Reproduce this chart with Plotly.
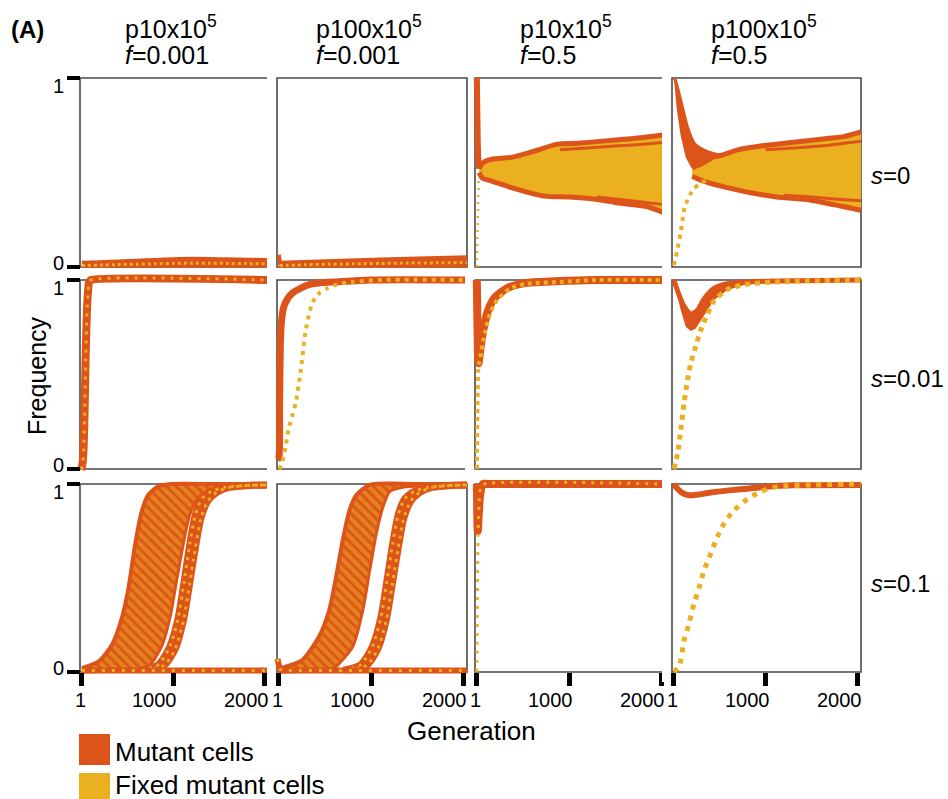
import plotly.graph_objects as go

ORANGE = "#DD541A"
YELLOW = "#EAB020"
FRAME = "#4a4a4a"
FONT = "Arial, Liberation Sans, sans-serif"

# ---------------- labels / ticks ----------------
GEN_TICKS = [1, 1000, 2000]
GEN_TICK_TEXT = ["1", "1000", "2000"]
FREQ_TICKS = [0, 1]
FREQ_TICK_TEXT = ["0", "1"]
POP_LABELS = ["p10x10<sup>5</sup>", "p100x10<sup>5</sup>", "p10x10<sup>5</sup>", "p100x10<sup>5</sup>"]
F_LABELS = ["0.001", "0.001", "0.5", "0.5"]
S_LABELS = ["0", "0.01", "0.1"]
LEGEND_LABELS = ["Mutant cells", "Fixed mutant cells"]
GEN_RANGE = [-20, 2038]

# ---------------- data ----------------
# row 1: s=0
r1c1_gen = [0, 200, 400, 600, 800, 1000, 1200, 1400, 1600, 1800, 2038]
r1c1_mut_hi = [0.025, 0.028, 0.032, 0.036, 0.04, 0.044, 0.046, 0.045, 0.043, 0.041, 0.04]
r1c1_mut_lo = [-0.004, -0.004, -0.004, -0.004, -0.004, -0.004, -0.004, -0.004, -0.004, -0.004, -0.004]
r1c1_fix = [0.008, 0.01, 0.013, 0.015, 0.017, 0.019, 0.02, 0.02, 0.019, 0.018, 0.017]

r1c2_gen = [0, 2, 12, 100, 300, 500, 800, 1100, 1400, 1700, 2038]
r1c2_mut_hi = [0.065, 0.03, 0.022, 0.024, 0.028, 0.032, 0.036, 0.04, 0.044, 0.048, 0.052]
r1c2_mut_lo = [-0.004, -0.004, -0.004, -0.004, -0.004, -0.004, -0.004, -0.004, -0.004, -0.004, -0.004]
r1c2_fix_gen = [10, 100, 300, 500, 800, 1100, 1400, 1700, 2038]
r1c2_fix = [0.008, 0.009, 0.012, 0.014, 0.017, 0.019, 0.021, 0.022, 0.024]

r1c3_mut_gen = [0, 4, 8, 12, 18, 25]
r1c3_mut = [1.0, 0.85, 0.72, 0.62, 0.55, 0.52]
r1c3_fix_gen = [0, 4, 8, 12, 18, 25]
r1c3_fix = [0.0, 0.12, 0.25, 0.36, 0.45, 0.5]
r1c3_hi_gen = [25, 60, 160, 374, 600, 874, 1100, 1444, 1693, 2038]
r1c3_hi = [0.52, 0.55, 0.57, 0.58, 0.61, 0.65, 0.655, 0.67, 0.68, 0.70]
r1c3_lo_gen = [25, 60, 160, 374, 730, 1000, 1265, 1515, 1836, 2038]
r1c3_lo = [0.5, 0.47, 0.455, 0.42, 0.375, 0.37, 0.36, 0.34, 0.32, 0.285]
r1c3_in_hi_gen = [900, 1200, 1500, 1800, 2038]
r1c3_in_hi = [0.62, 0.63, 0.64, 0.65, 0.66]
r1c3_in_lo_gen = [1300, 1600, 1850, 2038]
r1c3_in_lo = [0.37, 0.355, 0.34, 0.33]

r1c4_wedge_hi_gen = [0, 16, 76, 149, 221, 366, 511]
r1c4_wedge_hi = [1.0, 0.99, 0.88, 0.74, 0.655, 0.61, 0.59]
r1c4_wedge_lo_gen = [0, 15, 33, 76, 130, 185, 239, 300, 400, 511]
r1c4_wedge_lo = [1.0, 0.92, 0.83, 0.69, 0.58, 0.53, 0.52, 0.53, 0.56, 0.59]
r1c4_fix_gen = [0, 20, 40, 58, 76, 105, 120, 149, 185, 221, 293, 400, 550]
r1c4_fix = [0.01, 0.05, 0.09, 0.143, 0.187, 0.284, 0.32, 0.354, 0.39, 0.416, 0.443, 0.47, 0.49]
r1c4_hi_gen = [200, 300, 370, 510, 695, 945, 1300, 1670, 1850, 2038]
r1c4_hi = [0.52, 0.56, 0.58, 0.59, 0.62, 0.64, 0.66, 0.68, 0.69, 0.715]
r1c4_lo_gen = [200, 290, 580, 870, 1120, 1480, 1840, 2038]
r1c4_lo = [0.48, 0.46, 0.42, 0.39, 0.37, 0.355, 0.32, 0.30]
r1c4_in_hi_gen = [1000, 1300, 1600, 1850, 2038]
r1c4_in_hi = [0.62, 0.63, 0.64, 0.655, 0.665]
r1c4_in_lo_gen = [1200, 1500, 1750, 2038]
r1c4_in_lo = [0.38, 0.37, 0.36, 0.35]

# row 2: s=0.01
r2c1_gen = [-10, 0, 10, 20, 30, 40, 50, 60, 70, 80, 100, 2038]
r2c1_mut = [0.0, 0.01, 0.04, 0.12, 0.3, 0.55, 0.75, 0.88, 0.95, 0.99, 1.0, 1.0]
r2c1_fix = [0.0, 0.005, 0.03, 0.1, 0.27, 0.52, 0.73, 0.87, 0.94, 0.985, 1.0, 1.0]

r2c2_mut_gen = [-15, 0, 8, 19, 35, 55, 100, 145, 250, 328, 450, 620, 1000, 2038]
r2c2_mut = [0.05, 0.06, 0.35, 0.70, 0.81, 0.86, 0.905, 0.93, 0.96, 0.975, 0.985, 0.99, 1.0, 1.0]
r2c2_fix_gen = [0, 10, 33, 73, 109, 150, 183, 237, 292, 364, 437, 520, 620, 798, 1100, 2038]
r2c2_fix = [0.0, 0.005, 0.03, 0.12, 0.22, 0.29, 0.35, 0.52, 0.735, 0.88, 0.93, 0.955, 0.975, 0.99, 1.0, 1.0]

r2c3_mut_gen = [0, 4, 8, 12, 18, 25, 45, 80, 130, 200, 340, 540, 900, 1300, 2038]
r2c3_mut = [1.0, 0.85, 0.72, 0.62, 0.56, 0.58, 0.66, 0.76, 0.85, 0.91, 0.96, 0.985, 0.995, 1.0, 1.0]
r2c3_fix_gen = [0, 3, 6, 10, 15, 22, 33, 51, 87, 141, 214, 359, 540, 902, 1300, 2038]
r2c3_fix = [0.0, 0.12, 0.28, 0.42, 0.52, 0.56, 0.577, 0.63, 0.72, 0.82, 0.89, 0.955, 0.98, 0.99, 1.0, 1.0]

r2c4_hi_gen = [0, 58, 112, 185, 258, 329, 438, 584, 800, 1127, 2038]
r2c4_hi = [1.0, 0.92, 0.86, 0.82, 0.84, 0.90, 0.956, 0.98, 0.99, 0.995, 1.0]
r2c4_lo_gen = [0, 22, 76, 130, 185, 239, 293, 366, 438, 584, 764, 1127, 2038]
r2c4_lo = [0.99, 0.947, 0.84, 0.753, 0.73, 0.744, 0.788, 0.84, 0.894, 0.947, 0.974, 0.99, 0.995]
r2c4_fix_gen = [0, 40, 76, 112, 149, 185, 239, 293, 366, 438, 584, 764, 1100, 2038]
r2c4_fix = [0.0, 0.08, 0.21, 0.35, 0.47, 0.56, 0.65, 0.735, 0.82, 0.89, 0.95, 0.975, 0.99, 1.0]

# row 3: s=0.1
r3c1_band_hi_gen = [0, 185, 330, 438, 511, 583, 656, 728, 837, 982, 1489, 2038]
r3c1_band_hi = [0.021, 0.057, 0.145, 0.287, 0.447, 0.677, 0.855, 0.943, 0.988, 1.0, 1.0, 1.0]
r3c1_band_lo_gen = [0, 330, 620, 746, 873, 964, 1036, 1109, 1181, 1272, 1380, 1489, 2038]
r3c1_band_lo = [0.0, 0.005, 0.015, 0.039, 0.136, 0.287, 0.482, 0.677, 0.837, 0.926, 0.965, 0.982, 0.995]
r3c1_late1_gen = [650, 837, 964, 1054, 1120, 1181, 1243, 1315, 1417, 1562, 1851, 2038]
r3c1_late1 = [0.01, 0.039, 0.136, 0.287, 0.482, 0.677, 0.837, 0.922, 0.961, 0.982, 0.993, 0.995]
r3c1_late2_gen = [700, 900, 1020, 1115, 1180, 1243, 1305, 1380, 1475, 1610, 1860, 2038]
r3c1_late2 = [0.01, 0.035, 0.12, 0.28, 0.47, 0.66, 0.82, 0.91, 0.955, 0.982, 0.993, 0.995]
r3c1_zero_gen = [0, 2038]
r3c1_zero = [0.008, 0.008]

r3c2_band_hi_gen = [0, 73, 255, 437, 546, 620, 692, 765, 838, 984, 1489, 2038]
r3c2_band_hi = [0.015, 0.028, 0.064, 0.19, 0.33, 0.507, 0.70, 0.86, 0.94, 0.995, 1.0, 1.0]
r3c2_band_lo_gen = [0, 350, 600, 656, 801, 910, 984, 1057, 1129, 1202, 1311, 1489, 2038]
r3c2_band_lo = [0.0, 0.005, 0.02, 0.046, 0.135, 0.33, 0.54, 0.74, 0.88, 0.96, 0.98, 0.99, 0.995]
r3c2_late1_gen = [700, 887, 1014, 1104, 1170, 1231, 1293, 1365, 1467, 1612, 1880, 2038]
r3c2_late1 = [0.01, 0.039, 0.136, 0.287, 0.482, 0.677, 0.837, 0.922, 0.961, 0.982, 0.993, 0.995]
r3c2_late2_gen = [750, 950, 1070, 1165, 1230, 1293, 1355, 1430, 1525, 1660, 1900, 2038]
r3c2_late2 = [0.01, 0.035, 0.12, 0.28, 0.47, 0.66, 0.82, 0.91, 0.955, 0.982, 0.993, 0.995]
r3c2_zero_gen = [-15, 0, 10, 40, 2038]
r3c2_zero = [0.07, 0.04, 0.015, 0.008, 0.008]

r3c3_mut_gen = [0, 3, 6, 10, 20, 35, 65, 120, 2038]
r3c3_mut = [1.0, 0.9, 0.8, 0.75, 0.83, 0.94, 1.0, 1.0, 1.0]
r3c3_fix_gen = [0, 3, 6, 10, 15, 25, 43, 80, 2038]
r3c3_fix = [0.0, 0.2, 0.4, 0.6, 0.78, 0.9, 0.985, 1.0, 1.0]

r3c4_mut_gen = [0, 40, 100, 170, 250, 400, 600, 800, 1000, 1300, 2038]
r3c4_mut = [1.0, 0.975, 0.95, 0.94, 0.943, 0.955, 0.966, 0.975, 0.985, 0.993, 0.995]
r3c4_fix_gen = [0, 58, 112, 166, 221, 275, 329, 402, 475, 547, 655, 801, 946, 1127, 1489, 2038]
r3c4_fix = [0.0, 0.03, 0.17, 0.26, 0.365, 0.45, 0.54, 0.63, 0.72, 0.79, 0.86, 0.92, 0.96, 0.986, 0.995, 1.0]

# ---------------- layout geometry ----------------
W, H = 948, 799
FRAME_X = [(80, 268), (277, 467), (475, 665), (672, 861)]
FRAME_Y = [(78, 267), (280, 469), (484, 672)]
PAD = 10

fig = go.Figure()


def refs(i):
    return ("x" if i == 1 else f"x{i}"), ("y" if i == 1 else f"y{i}")


def add_line(i, g, f, color, width, dash="solid", smooth=True):
    xa, ya = refs(i)
    fig.add_trace(go.Scatter(
        x=g, y=f, mode="lines", xaxis=xa, yaxis=ya,
        line=dict(color=color, width=width, dash=dash,
                  shape="spline" if smooth else "linear", smoothing=0.7),
        hoverinfo="skip", showlegend=False))


def add_band(i, g_hi, f_hi, g_lo, f_lo, color, pattern=None):
    xa, ya = refs(i)
    xs = list(g_hi) + list(g_lo)[::-1]
    ys = list(f_hi) + list(f_lo)[::-1]
    kw = {}
    if pattern is not None:
        kw["fillpattern"] = pattern
    fig.add_trace(go.Scatter(
        x=xs, y=ys, mode="lines", xaxis=xa, yaxis=ya, fill="toself",
        fillcolor=color, line=dict(width=0, color=color),
        hoverinfo="skip", showlegend=False, **kw))


# ---- row 1 ----
add_band(1, r1c1_gen, r1c1_mut_hi, r1c1_gen, r1c1_mut_lo, ORANGE)
add_line(1, r1c1_gen, r1c1_mut_hi, ORANGE, 3)
add_line(1, r1c1_gen, r1c1_fix, YELLOW, 3, "3px,3px")

add_band(2, r1c2_gen, r1c2_mut_hi, r1c2_gen, r1c2_mut_lo, ORANGE, None)
add_line(2, r1c2_gen, r1c2_mut_hi, ORANGE, 4, smooth=False)
add_line(2, r1c2_fix_gen, r1c2_fix, YELLOW, 3, "3px,3px")

add_line(3, r1c3_mut_gen, r1c3_mut, ORANGE, 6)
add_line(3, r1c3_fix_gen, r1c3_fix, YELLOW, 2.5, "2px,5px", smooth=False)
add_band(3, r1c3_hi_gen, r1c3_hi, r1c3_lo_gen, r1c3_lo, YELLOW)
add_line(3, r1c3_in_hi_gen, r1c3_in_hi, ORANGE, 3)
add_line(3, r1c3_in_lo_gen, r1c3_in_lo, ORANGE, 3)
add_line(3, r1c3_hi_gen, r1c3_hi, ORANGE, 5)
add_line(3, r1c3_lo_gen, r1c3_lo, ORANGE, 5)

add_band(4, r1c4_hi_gen, r1c4_hi, r1c4_lo_gen, r1c4_lo, YELLOW)
add_line(4, r1c4_in_hi_gen, r1c4_in_hi, ORANGE, 3)
add_line(4, r1c4_in_lo_gen, r1c4_in_lo, ORANGE, 3)
add_line(4, r1c4_hi_gen, r1c4_hi, ORANGE, 5)
add_line(4, r1c4_lo_gen, r1c4_lo, ORANGE, 5)
add_band(4, r1c4_wedge_hi_gen, r1c4_wedge_hi, r1c4_wedge_lo_gen, r1c4_wedge_lo, ORANGE)
add_line(4, r1c4_wedge_hi_gen, r1c4_wedge_hi, ORANGE, 3)
add_line(4, r1c4_fix_gen, r1c4_fix, YELLOW, 4, "4px,5px")

# ---- row 2 ----
add_line(5, r2c1_gen, r2c1_mut, ORANGE, 8)
add_line(5, r2c1_gen, r2c1_fix, YELLOW, 3, "3px,6px")

add_line(6, r2c2_mut_gen, r2c2_mut, ORANGE, 7)
add_line(6, r2c2_fix_gen, r2c2_fix, YELLOW, 4, "4px,5px")

add_line(7, r2c3_mut_gen, r2c3_mut, ORANGE, 8)
add_line(7, r2c3_fix_gen, r2c3_fix, YELLOW, 4, "4px,4px")

add_band(8, r2c4_hi_gen, r2c4_hi, r2c4_lo_gen, r2c4_lo, ORANGE)
add_line(8, r2c4_hi_gen, r2c4_hi, ORANGE, 5)
add_line(8, r2c4_fix_gen, r2c4_fix, YELLOW, 5, "5px,5px")

# ---- row 3 ----
stripes = dict(shape="\\", fgcolor=YELLOW, bgcolor=ORANGE, size=7, solidity=0.6)
for i, bhg, bh, blg, bl, l1g, l1, l2g, l2, zg, z in [
    (9, r3c1_band_hi_gen, r3c1_band_hi, r3c1_band_lo_gen, r3c1_band_lo,
     r3c1_late1_gen, r3c1_late1, r3c1_late2_gen, r3c1_late2, r3c1_zero_gen, r3c1_zero),
    (10, r3c2_band_hi_gen, r3c2_band_hi, r3c2_band_lo_gen, r3c2_band_lo,
     r3c2_late1_gen, r3c2_late1, r3c2_late2_gen, r3c2_late2, r3c2_zero_gen, r3c2_zero),
]:
    add_band(i, bhg, bh, blg, bl, ORANGE, stripes)
    add_line(i, bhg, bh, ORANGE, 4)
    add_line(i, blg, bl, ORANGE, 3)
    add_line(i, l2g, l2, ORANGE, 7)
    add_line(i, l1g, l1, ORANGE, 7)
    add_line(i, l2g, l2, YELLOW, 3, "3px,5px")
    add_line(i, l1g, l1, YELLOW, 3, "3px,5px")
    add_line(i, zg, z, ORANGE, 6, smooth=False)
    add_line(i, zg, z, YELLOW, 3, "3px,7px", smooth=False)

add_line(11, r3c3_mut_gen, r3c3_mut, ORANGE, 8)
add_line(11, r3c3_fix_gen, r3c3_fix, YELLOW, 3, "3px,6px")

add_line(12, r3c4_mut_gen, r3c4_mut, ORANGE, 6)
add_line(12, r3c4_fix_gen, r3c4_fix, YELLOW, 5, "5px,6px")

# ---------------- axes ----------------
layout_axes = {}
shapes = []
annotations = []
for r in range(3):
    for c in range(4):
        i = r * 4 + c + 1
        x0, x1 = FRAME_X[c]
        y0, y1 = FRAME_Y[r]
        ppg = (x1 - x0) / (GEN_RANGE[1] - GEN_RANGE[0])
        ppf = float(y1 - y0)
        xa_name = "xaxis" if i == 1 else f"xaxis{i}"
        ya_name = "yaxis" if i == 1 else f"yaxis{i}"
        xr, yr = refs(i)
        xa = dict(domain=[(x0 - PAD) / W, (x1 + PAD) / W],
                  range=[GEN_RANGE[0] - PAD / ppg, GEN_RANGE[1] + PAD / ppg],
                  showgrid=False, zeroline=False, showline=False, fixedrange=True,
                  showticklabels=False)
        ya = dict(domain=[1 - (y1 + PAD) / H, 1 - (y0 - PAD) / H],
                  range=[-PAD / ppf, 1 + PAD / ppf],
                  showgrid=False, zeroline=False, showline=False, fixedrange=True,
                  showticklabels=False)
        if r == 2:
            xa.update(anchor="free", position=1 - y1 / H, ticks="outside", ticklen=13,
                      tickwidth=5, tickcolor="black", tickmode="array", tickvals=GEN_TICKS)
            for tv, tt in zip(GEN_TICKS, GEN_TICK_TEXT):
                annotations.append(dict(text=tt, x=tv, xref=xr, y=1 - 700 / H, yref="paper",
                                        xanchor="right", yanchor="middle", xshift=6,
                                        showarrow=False,
                                        font=dict(family=FONT, size=20, color="black")))
        else:
            xa.update(anchor=yr, ticks="")
        if c == 0:
            ya.update(anchor="free", position=x0 / W, ticks="outside", ticklen=13,
                      tickwidth=4, tickcolor="black", tickmode="array", tickvals=FREQ_TICKS)
            for tv, tt, ysh in zip(FREQ_TICKS, FREQ_TICK_TEXT, [4, -8]):
                annotations.append(dict(text=tt, x=66 / W, xref="paper", y=tv, yref=yr,
                                        xanchor="right", yanchor="middle", yshift=ysh,
                                        showarrow=False,
                                        font=dict(family=FONT, size=20, color="black")))
        else:
            ya.update(anchor=xr, ticks="")
        layout_axes[xa_name] = xa
        layout_axes[ya_name] = ya
        shapes.append(dict(type="rect", xref=xr, yref=yr, x0=GEN_RANGE[0], x1=GEN_RANGE[1],
                           y0=0, y1=1, line=dict(color=FRAME, width=1.6), layer="below"))

# legend swatches
LEG_Y = [(734, 765), (773, 804)]
for (ya0, ya1), col in zip(LEG_Y, [ORANGE, YELLOW]):
    shapes.append(dict(type="rect", xref="paper", yref="paper", x0=79 / W, x1=110 / W,
                       y0=1 - ya1 / H, y1=1 - ya0 / H, line=dict(width=0), fillcolor=col))


def ann(text, px, py, size=24, xanchor="left", textangle=0):
    return dict(text=text, x=px / W, y=1 - py / H, xref="paper", yref="paper",
                showarrow=False, xanchor=xanchor, yanchor="middle", textangle=textangle,
                font=dict(family=FONT, size=size, color="black"))


annotations.append(ann("<b>(A)</b>", 9, 29, size=24))
HEAD_X = [123, 314, 518, 709]
for hx, pl, fl in zip(HEAD_X, POP_LABELS, F_LABELS):
    annotations.append(ann(pl, hx, 27, size=25))
    annotations.append(ann(f"<i>f</i>=" + fl, hx, 55, size=25))
ROW_Y = [175, 378, 583]
for ry, sl in zip(ROW_Y, S_LABELS):
    annotations.append(ann(f"<i>s</i>=" + sl, 869, ry, size=24))
annotations.append(ann("Frequency", 37, 376, size=25, xanchor="center", textangle=-90))
annotations.append(ann("Generation", 471, 731, size=26, xanchor="center"))
annotations.append(ann(LEGEND_LABELS[0], 113, 752, size=26))
annotations.append(ann(LEGEND_LABELS[1], 113, 785, size=26))

fig.update_layout(
    width=W, height=H, margin=dict(l=0, r=0, t=0, b=0),
    paper_bgcolor="white", plot_bgcolor="white", showlegend=False,
    shapes=shapes, annotations=annotations, font=dict(family=FONT),
    **layout_axes)

fig.write_html("out.html")
